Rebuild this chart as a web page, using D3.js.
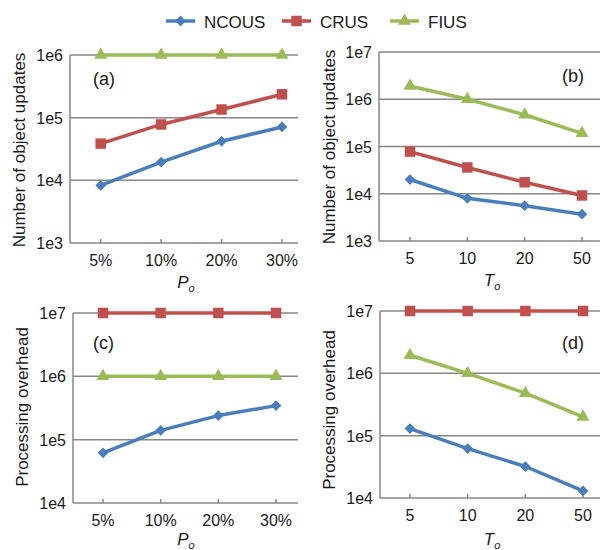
<html>
<head>
<meta charset="utf-8">
<title>Object updates and processing overhead</title>
<script src="https://d3js.org/d3.v7.min.js"></script>
<style>
  body { margin: 0; background: #fff; }
  text { font-family: "Liberation Sans", Arial, Helvetica, sans-serif; fill: #1a1a1a; }
</style>
</head>
<body>
<svg id="chart" width="600" height="550"></svg>
<script>
// ---- data ----
const seriesNames = ["NCOUS", "CRUS", "FIUS"];
const seriesColors = ["#4a7ebb", "#c0504d", "#9bbb59"];
const poLabels = ["5%", "10%", "20%", "30%"];
const toLabels = ["5", "10", "20", "50"];

const updatesPoNCOUS = [8300, 19500, 42000, 71000];
const updatesPoCRUS  = [38500, 78000, 135000, 236000];
const updatesPoFIUS  = [1e6, 1e6, 1e6, 1e6];

const updatesToNCOUS = [20000, 8000, 5600, 3700];
const updatesToCRUS  = [78000, 36000, 17500, 9200];
const updatesToFIUS  = [1.9e6, 1e6, 4.7e5, 1.9e5];

const overheadPoNCOUS = [62000, 140000, 240000, 345000];
const overheadPoCRUS  = [1e7, 1e7, 1e7, 1e7];
const overheadPoFIUS  = [1e6, 1e6, 1e6, 1e6];

const overheadToNCOUS = [130000, 62000, 32000, 13000];
const overheadToCRUS  = [1e7, 1e7, 1e7, 1e7];
const overheadToFIUS  = [1.95e6, 1e6, 4.8e5, 2e5];

const updatesTicks = [1e3, 1e4, 1e5, 1e6, 1e7];
const overheadTicks = [1e4, 1e5, 1e6, 1e7];

// ---- panel layout ----
const panels = [
  { tag: "(a)", cats: poLabels, xt: ["P", "o"], yt: "Number of object updates",
    series: [updatesPoNCOUS, updatesPoCRUS, updatesPoFIUS], ydom: [1e3, 1e6], ticks: updatesTicks,
    left: 70, right: 298, top: 55, bottom: 243, xr: [100.7, 282], tagX: 93, tagY: 85, ytX: 19, ytY: 150, xtX: 186, xtY: 288 },
  { tag: "(b)", cats: toLabels, xt: ["T", "o"], yt: "Number of object updates",
    series: [updatesToNCOUS, updatesToCRUS, updatesToFIUS], ydom: [1e3, 1e7], ticks: updatesTicks,
    left: 379, right: 600, top: 52, bottom: 241, xr: [410, 582], tagX: 562, tagY: 82, ytX: 329, ytY: 147, xtX: 492, xtY: 286 },
  { tag: "(c)", cats: poLabels, xt: ["P", "o"], yt: "Processing overhead",
    series: [overheadPoNCOUS, overheadPoCRUS, overheadPoFIUS], ydom: [1e4, 1e7], ticks: overheadTicks,
    left: 73, right: 298, top: 313, bottom: 503, xr: [103, 276], tagX: 93, tagY: 349, ytX: 22, ytY: 407, xtX: 186, xtY: 545 },
  { tag: "(d)", cats: toLabels, xt: ["T", "o"], yt: "Processing overhead",
    series: [overheadToNCOUS, overheadToCRUS, overheadToFIUS], ydom: [1e4, 1e7], ticks: overheadTicks,
    left: 380, right: 600, top: 311, bottom: 498, xr: [410, 583], tagX: 562, tagY: 349, ytX: 329, ytY: 410, xtX: 492, xtY: 545 }
];

const svg = d3.select("#chart");
const gridColor = "#878787";

const symbols = [
  d3.symbol().type(d3.symbolDiamond2).size(74),
  d3.symbol().type(d3.symbolSquare).size(110),
  d3.symbol().type(d3.symbolTriangle).size(74)
];

function drawMarker(g, i, x, y) {
  g.append("path")
    .attr("d", symbols[i]())
    .attr("transform", "translate(" + x + "," + y + ")")
    .attr("fill", seriesColors[i]);
}

panels.forEach(function(p) {
  const g = svg.append("g");
  const x = d3.scalePoint().domain(p.cats).range(p.xr);
  const y = d3.scaleLog().domain(p.ydom).range([p.bottom, p.top]);
  const yTicks = p.ticks.filter(t => t >= p.ydom[0] && t <= p.ydom[1]);

  // gridlines (bottom one doubles as the x axis)
  g.selectAll(".grid").data(yTicks).enter().append("line")
    .attr("x1", p.left).attr("x2", p.right)
    .attr("y1", d => y(d)).attr("y2", d => y(d))
    .attr("stroke", gridColor).attr("stroke-width", 1.5);

  // y axis line
  g.append("line")
    .attr("x1", p.left).attr("x2", p.left)
    .attr("y1", p.top).attr("y2", p.bottom)
    .attr("stroke", gridColor).attr("stroke-width", 1.5);

  // small inward ticks on x axis
  g.selectAll(".xtick").data(p.cats).enter().append("line")
    .attr("x1", d => x(d)).attr("x2", d => x(d))
    .attr("y1", p.bottom).attr("y2", p.bottom - 4)
    .attr("stroke", gridColor).attr("stroke-width", 1.5);

  // y tick labels
  g.selectAll(".ylab").data(yTicks).enter().append("text")
    .attr("x", p.left - 7).attr("y", d => y(d) + 6)
    .attr("text-anchor", "end").attr("font-size", 16)
    .text(d => "1e" + Math.round(Math.log10(d)));

  // x tick labels
  g.selectAll(".xlab").data(p.cats).enter().append("text")
    .attr("x", d => x(d)).attr("y", p.bottom + 23)
    .attr("text-anchor", "middle").attr("font-size", 16)
    .text(d => d);

  // axis titles
  g.append("text")
    .attr("transform", "translate(" + p.ytX + "," + p.ytY + ") rotate(-90)")
    .attr("text-anchor", "middle").attr("dominant-baseline", "central")
    .attr("font-size", 17).text(p.yt);

  const xt = g.append("text")
    .attr("x", p.xtX).attr("y", p.xtY)
    .attr("text-anchor", "middle").attr("font-size", 17).attr("font-style", "italic");
  xt.append("tspan").text(p.xt[0]);
  xt.append("tspan").attr("font-size", 11).attr("dy", 4).text(p.xt[1]);

  // panel tag
  g.append("text").attr("x", p.tagX).attr("y", p.tagY)
    .attr("font-size", 18).text(p.tag);

  // series
  const line = d3.line().x((d, i) => x(p.cats[i])).y(d => y(d));
  p.series.forEach(function(vals, si) {
    g.append("path").datum(vals)
      .attr("d", line)
      .attr("fill", "none")
      .attr("stroke", seriesColors[si])
      .attr("stroke-width", 3.5)
      .attr("stroke-linejoin", "round");
    vals.forEach(function(v, i) { drawMarker(g, si, x(p.cats[i]), y(v)); });
  });
});

// legend
const legendX = [166, 282, 390];
const legend = svg.append("g");
seriesNames.forEach(function(name, i) {
  const lx = legendX[i];
  legend.append("line")
    .attr("x1", lx).attr("x2", lx + 29)
    .attr("y1", 21).attr("y2", 21)
    .attr("stroke", seriesColors[i]).attr("stroke-width", 3.5);
  drawMarker(legend, i, lx + 14.5, 21);
  legend.append("text")
    .attr("x", lx + 38).attr("y", 27.5)
    .attr("font-size", 17).text(name);
});
</script>
</body>
</html>
